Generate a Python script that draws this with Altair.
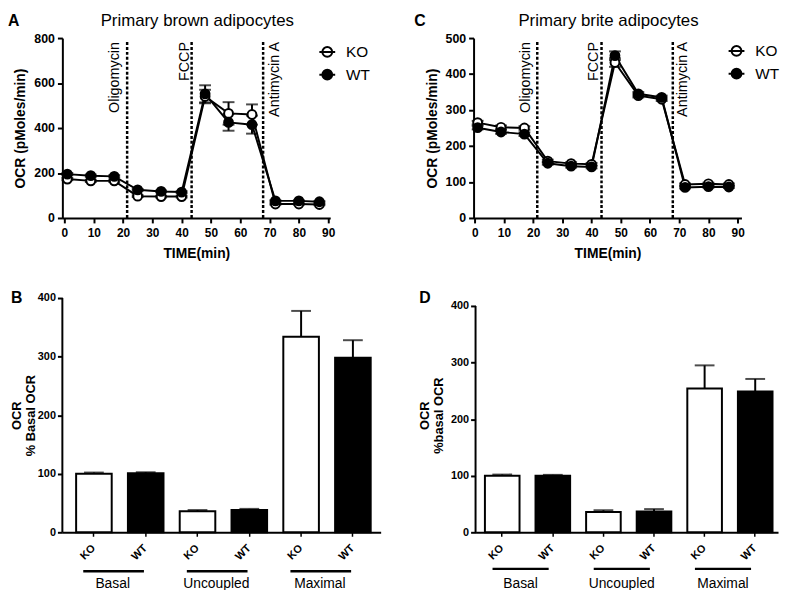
import altair as alt
import pandas as pd

FONT = "Liberation Sans"

# ---------------- data ----------------
times = [1, 9, 17, 25, 33, 40, 48, 56, 64, 72, 80, 87]

brown_ko = [173, 165, 165, 97, 95, 95, 540, 465, 460, 62, 62, 60]
brown_ko_err = [5, 5, 5, 4, 4, 4, 30, 50, 45, 3, 3, 3]
brown_wt = [195, 188, 185, 125, 118, 115, 552, 425, 415, 76, 76, 72]
brown_wt_err = [5, 5, 5, 4, 4, 4, 38, 37, 40, 3, 3, 3]

brite_ko = [265, 252, 250, 158, 151, 149, 432, 340, 330, 93, 95, 93]
brite_ko_err = [5, 5, 5, 4, 4, 4, 12, 5, 5, 3, 3, 3]
brite_wt = [251, 239, 233, 152, 144, 142, 451, 345, 335, 85, 87, 86]
brite_wt_err = [5, 5, 5, 4, 4, 4, 12, 5, 5, 3, 3, 3]

injections = ["Oligomycin", "FCCP", "Antimycin A"]
injection_times = [21.4, 43.4, 67.8]

genotypes = ["KO", "WT"]
groups = ["Basal", "Uncoupled", "Maximal"]
bar_keys = ["Basal|KO", "Basal|WT", "Uncoupled|KO", "Uncoupled|WT", "Maximal|KO", "Maximal|WT"]
brown_bar = [100, 101, 36, 38, 334, 298]
brown_bar_err = [2, 1.5, 2, 2, 44, 30]
brite_bar = [100, 100, 36, 37, 254, 249]
brite_bar_err = [2, 1.5, 3, 4, 41, 22]

FILL = alt.Scale(domain=genotypes, range=["white", "black"])
LEGEND_PATH = "M-1,0L1,0M-0.62,0A0.62,0.62,0,1,1,0.62,0A0.62,0.62,0,1,1,-0.62,0Z"


def time_df(ko, ko_err, wt, wt_err):
    rows = []
    for g, vals, errs in (("KO", ko, ko_err), ("WT", wt, wt_err)):
        for t, v, e in zip(times, vals, errs):
            rows.append({"time": t, "ocr": v, "lo": v - e, "hi": v + e, "geno": g})
    return pd.DataFrame(rows)


def text_layer(txt, x, y, size, weight="normal", align="left", baseline="alphabetic"):
    return alt.Chart(pd.DataFrame({"t": [txt]})).mark_text(
        align=align, baseline=baseline, fontSize=size, fontWeight=weight, font=FONT, color="black"
    ).encode(text="t:N", x=alt.value(x), y=alt.value(y))


def time_panel(df, title, letter, letter_x, ymax, yticks, xdom, dys, legend_x, legend_y):
    W, H = 271, 182
    xaxis = alt.Axis(values=list(range(0, 91, 10)), title="TIME(min)", labelFontSize=12,
                     titleFontSize=14, tickSize=5, labelPadding=5, titlePadding=8,
                     labelFlush=False, labelOverlap=False)
    yaxis = alt.Axis(values=yticks, title="OCR (pMoles/min)", labelFontSize=12.5, titleFontSize=14,
                     tickSize=5, labelPadding=3, titlePadding=6, labelFlush=False, labelOverlap=False)
    xsc = alt.Scale(domain=xdom, nice=False, zero=False)
    ysc = alt.Scale(domain=[0, ymax], nice=False)

    def X(f="time"):
        return alt.X(f"{f}:Q", scale=xsc, axis=xaxis)

    def Y(f):
        return alt.Y(f"{f}:Q", scale=ysc, axis=yaxis)

    base = alt.Chart(df)
    inj = alt.Chart(pd.DataFrame({"time": injection_times, "label": injections}))

    rules = inj.mark_rule(color="black", strokeWidth=2.5, strokeDash=[3, 2]).encode(
        x=X(), y=alt.value(4), y2=alt.value(H))
    labels = []
    for name, dy in zip(injections, dys):
        labels.append(
            inj.transform_filter(alt.datum.label == name).mark_text(
                angle=270, align="right", baseline="alphabetic", fontSize=14.5, font=FONT,
                color="black", dy=dy).encode(x=X(), y=alt.value(4), text="label:N"))

    err = base.mark_rule(color="black", strokeWidth=2).encode(x=X(), y=Y("lo"), y2="hi:Q")
    cap_lo = base.mark_tick(orient="horizontal", color="black", size=12, thickness=2).encode(x=X(), y=Y("lo"))
    cap_hi = base.mark_tick(orient="horizontal", color="black", size=12, thickness=2).encode(x=X(), y=Y("hi"))
    line = base.mark_line(color="black", strokeWidth=2).encode(x=X(), y=Y("ocr"), detail="geno:N")
    pts = base.mark_point(shape="circle", size=80, filled=True, stroke="black", strokeWidth=2,
                          opacity=1, fillOpacity=1, strokeOpacity=1).encode(
        x=X(), y=Y("ocr"),
        fill=alt.Fill("geno:N", scale=FILL, legend=alt.Legend(
            title=None, orient="none", legendX=legend_x, legendY=legend_y,
            symbolType=LEGEND_PATH, symbolSize=256, symbolStrokeWidth=2,
            symbolStrokeColor="black", labelFont=FONT, labelFontSize=15.5,
            labelColor="black", labelFontWeight="normal", labelOffset=10,
            rowPadding=5, padding=0)))

    ttl = text_layer(title, W / 2 + 1, -12.5, 17, align="center")
    let = text_layer(letter, letter_x, -12.5, 16, weight="bold")
    return alt.layer(rules, *labels, err, cap_lo, cap_hi, line, pts, ttl, let).properties(width=W, height=H)


def bar_panel(vals, errs, W, ytop, ytitle, title_pad, letter, letter_x, pi, po, align,
              rule_bp, rule_y, text_y):
    H = 237
    df = pd.DataFrame({"key": bar_keys, "val": vals, "hi": [v + e for v, e in zip(vals, errs)],
                       "geno": [k.split("|")[1] for k in bar_keys]})
    xsc = alt.Scale(domain=bar_keys, paddingInner=pi, paddingOuter=po, align=align)
    xaxis = alt.Axis(title=None, labelExpr="split(datum.label, '|')[1]", labelAngle=-45,
                     labelAlign="right", labelBaseline="middle", labelFontSize=11,
                     labelPadding=10, tickSize=4, tickWidth=1.5, labelFlush=False)
    ysc = alt.Scale(domain=[0, ytop], nice=False)
    yaxis = alt.Axis(values=[0, 100, 200, 300, 400], title=ytitle, labelFontSize=11,
                     titleFontSize=13, titleLineHeight=14, tickSize=5, labelPadding=2,
                     titlePadding=title_pad, domain=False, labelFlush=False)

    def X(f="key", bp=None):
        if bp is None:
            return alt.X(f"{f}:N", scale=xsc, axis=xaxis)
        return alt.X(f"{f}:N", scale=xsc, axis=xaxis, bandPosition=bp)

    def Y(f):
        return alt.Y(f"{f}:Q", scale=ysc, axis=yaxis)

    base = alt.Chart(df)
    yline = alt.Chart(pd.DataFrame({"v0": [0], "v1": [400]})).mark_rule(
        color="black", strokeWidth=2).encode(x=alt.value(0), y=Y("v0"), y2="v1:Q")
    err = base.mark_rule(color="black", strokeWidth=2).encode(x=X(), y=Y("val"), y2="hi:Q")
    cap = base.mark_tick(orient="horizontal", color="black", size=20, thickness=2).encode(x=X(), y=Y("hi"))
    bars = base.mark_bar(stroke="black", strokeWidth=2, fillOpacity=1).encode(
        x=X(), y=Y("val"), fill=alt.Fill("geno:N", scale=FILL, legend=None))

    gdf = pd.DataFrame({"group": groups, "k1": [g + "|KO" for g in groups],
                        "k2": [g + "|WT" for g in groups]})
    gb = alt.Chart(gdf)
    grule = gb.mark_rule(color="black", strokeWidth=2.5).encode(
        x=X("k1", rule_bp[0]), x2=alt.X2("k2:N", bandPosition=rule_bp[1]),
        y=alt.value(H + rule_y))
    gtext = gb.mark_text(fontSize=14, font=FONT, color="black", align="center",
                         baseline="alphabetic", dx=1).encode(
        x=X("k1", 1.0), y=alt.value(H + text_y), text="group:N")
    let = text_layer(letter, letter_x, 5, 16, weight="bold")
    return alt.layer(err, cap, bars, yline, grule, gtext, let).properties(width=W, height=H)


A = time_panel(time_df(brown_ko, brown_ko_err, brown_wt, brown_wt_err),
               "Primary brown adipocytes", "A", -55, 800, [0, 200, 400, 600, 800],
               [-0.7, 90.7], [-8, -3, 16], 259, 5)
C = time_panel(time_df(brite_ko, brite_ko_err, brite_wt, brite_wt_err),
               "Primary brite adipocytes", "C", -60, 500, [0, 100, 200, 300, 400, 500],
               [-0.4, 91.3], [-7, -4, 14], 257, 4)
B = bar_panel(brown_bar, brown_bar_err, 322, 400, ["OCR", "% Basal OCR"], 0, "B", -52,
              0.313, 0.229, 0.58, (0.2, 0.45), 39.5, 56)
D = bar_panel(brite_bar, brite_bar_err, 306, 414, ["OCR", "%basal OCR"], 5, "D", -57,
              0.316, 0.147, 0.63, (0.22, 0.38), 37, 56)

top = alt.hconcat(A, C, spacing=145, bounds="flush").resolve_scale(fill="independent")
bottom = alt.hconcat(B, D, spacing=96, bounds="flush").resolve_scale(fill="independent")

chart = alt.vconcat(top, bottom, spacing=30).resolve_scale(fill="independent").properties(
    padding=0
).configure(font=FONT).configure_view(stroke=None).configure_axis(
    domainColor="black", domainWidth=2, tickColor="black", tickWidth=2,
    labelColor="black", titleColor="black", labelFont=FONT, titleFont=FONT,
    labelFontWeight="bold", titleFontWeight="bold", grid=False)

chart.save("out.html", embed_options={"renderer": "svg", "actions": False})
